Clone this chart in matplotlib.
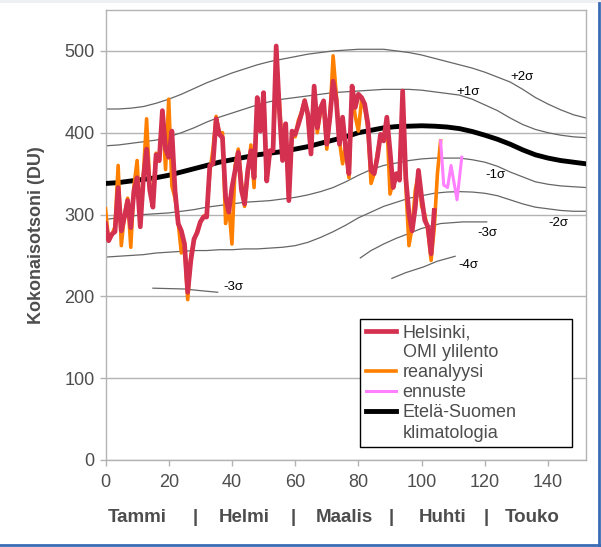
import matplotlib

matplotlib.use("Agg")
import matplotlib.pyplot as plt
from matplotlib.lines import Line2D

plt.rcParams["font.family"] = ["Liberation Sans", "DejaVu Sans"]

# Helsinki, OMI overpass (daily, from day 0)
helsinki = [289, 268, 276, 279, 333, 280, 297, 317, 284, 329,
            345, 285, 345, 380, 330, 309, 373, 366, 427, 380,
            370, 402, 329, 289, 280, 264, 205, 244, 270, 278,
            291, 297, 297, 360, 362, 417, 398, 394, 321, 303,
            333, 354, 376, 330, 313, 354, 378, 345, 443, 402,
            449, 341, 378, 378, 506, 427, 366, 411, 317, 402,
            398, 410, 423, 439, 423, 374, 457, 406, 430, 439,
            386, 419, 463, 440, 386, 419, 380, 350, 457, 431,
            447, 443, 435, 411, 354, 350, 370, 398, 390, 419,
            378, 333, 350, 342, 451, 345, 301, 280, 309, 354,
            321, 293, 285, 252, 305]

# reanalysis (daily, from day 0)
reanalysis = [307, 268, 275, 285, 360, 262, 300, 320, 260, 335,
              366, 290, 350, 417, 335, 320, 375, 365, 425, 355,
              441, 335, 320, 290, 253, 262, 196, 250, 268, 280,
              290, 298, 300, 352, 380, 420, 400, 400, 289, 310,
              264, 360, 380, 340, 310, 350, 385, 333, 440, 405,
              447, 345, 375, 380, 470, 440, 370, 405, 320, 400,
              395, 415, 425, 440, 420, 380, 450, 400, 425, 435,
              380, 420, 494, 447, 390, 362, 385, 345, 450, 420,
              402, 440, 430, 405, 338, 350, 375, 395, 395, 415,
              325, 340, 350, 345, 440, 335, 262, 285, 330, 350,
              310, 300, 280, 244, 284, 350, 390]

# forecast
fc_days = [106, 107, 108.2, 109.3, 111.2, 112.7]
forecast = [390, 336, 333, 360, 318, 370]

# climatology and sigma bands (Southern Finland)
clim_days = [0, 4, 8, 12, 16, 20, 24, 28, 32, 36, 40, 44, 48, 52, 56, 60,
             64, 68, 72, 76, 80, 84, 88, 92, 96, 100, 104, 108, 112, 116,
             120, 124, 128, 132, 136, 140, 144, 148, 152]
clim = [338, 339, 341, 343, 345, 348, 352, 356, 360, 364, 367, 370, 373,
        375, 377, 380, 383, 387, 391, 395, 400, 403, 406, 407.5, 408, 408.5,
        408, 407, 405, 401.5, 397, 392, 386, 379, 373, 369, 366, 364, 362]
plus2 = [429, 429, 430, 432, 436, 441, 447, 454, 461, 467, 473, 478, 483,
         487, 490, 493, 496, 498, 500, 501, 502, 502, 502, 500, 498, 495,
         491, 487, 483, 479, 474, 468, 462, 453, 443, 435, 428, 422, 418]
plus1 = [384, 385, 387, 389, 391, 395, 400, 406, 413, 419, 424, 429, 434,
         438, 441, 443, 445, 447, 449, 450, 451, 452, 453, 453, 453, 452,
         450, 448, 446, 441, 434, 427, 418, 410, 404, 400, 397, 395, 394]
minus1 = [294, 296, 298, 300, 301, 302, 304, 306, 309, 311, 313, 315, 316,
          317, 319, 321, 324, 328, 333, 340, 348, 355, 360, 363, 366, 368,
          369, 369, 369, 367, 364, 359, 352, 346, 340, 337, 335, 334, 333]
minus2 = [248, 249, 250, 251, 253, 254, 255, 256, 256, 257, 257, 258, 258,
          259, 260, 262, 266, 272, 279, 287, 296, 303, 310, 315, 320, 323,
          326, 327.5, 328, 327.5, 326, 323, 318, 313, 309, 307, 305, 304, 304]
m3a_days = [15, 20, 25, 30, 35.5]
minus3a = [210, 209.5, 209, 207, 205]
m3b_days = [80.6, 84, 88, 92, 95.4, 100, 106, 113, 120.6]
minus3b = [247, 256, 264, 271, 276, 283, 289, 291, 291]
m4_days = [90.6, 95, 100.6, 105, 110.6]
minus4 = [222, 229, 236, 243, 249]

sigma_labels = ["+2σ", "+1σ", "-1σ", "-2σ", "-3σ", "-4σ", "-3σ"]
sigma_lab_x = [131.8, 114.8, 123.3, 143.2, 120.7, 114.8, 40.5]
sigma_lab_y = [468, 450, 348, 290, 277, 238, 212]

months = ["Tammi", "|", "Helmi", "|", "Maalis", "|", "Huhti", "|", "Touko"]
month_px = [137, 195, 244, 293, 344, 391, 443, 486, 532]

grey = "#b3b3b3"
txt = "#4d4d4d"
c_hel = "#d4304f"
c_rea = "#ff8000"
c_fc = "#ff80ff"

fig = plt.figure(figsize=(6.01, 5.47), dpi=100)
ax = fig.add_axes([105.5 / 601, 87 / 547, 480.5 / 601, 450 / 547])

sig_kw = dict(color="#666666", lw=0.9, zorder=2)
for ys in (plus2, plus1, minus1, minus2):
    ax.plot(clim_days, ys, **sig_kw)
ax.plot(m3a_days, minus3a, **sig_kw)
ax.plot(m3b_days, minus3b, **sig_kw)
ax.plot(m4_days, minus4, **sig_kw)
ax.plot(clim_days, clim, color="black", lw=3.5, zorder=3,
        solid_joinstyle="round")

ax.plot(range(len(reanalysis)), reanalysis, color=c_rea, lw=2.6, zorder=4,
        solid_joinstyle="round")
ax.plot(fc_days, forecast, color=c_fc, lw=2.2, zorder=4,
        solid_joinstyle="round")
ax.plot(range(len(helsinki)), helsinki, color=c_hel, lw=3.4, zorder=5,
        solid_joinstyle="round")

for s, x, y in zip(sigma_labels, sigma_lab_x, sigma_lab_y):
    ax.text(x, y, s, fontsize=9.5, ha="center", va="center", color="black")

ax.set_xlim(0, 152)
ax.set_ylim(0, 550)
ax.set_xticks(range(0, 141, 20))
ax.set_yticks(range(0, 501, 100))
ax.yaxis.grid(True, color=grey, lw=1)
ax.set_axisbelow(True)
for sp in ax.spines.values():
    sp.set_color(grey)
    sp.set_linewidth(1)
ax.tick_params(colors=grey, labelcolor=txt, labelsize=13, length=4,
               width=1)
ax.tick_params(axis="x", pad=6)
ax.tick_params(axis="y", pad=4)
ax.set_ylabel("Kokonaisotsoni (DU)", fontsize=13, fontweight="bold",
              color=txt, labelpad=14)

for m, px in zip(months, month_px):
    fig.text(px / 601, 1 - 518 / 547, m, fontsize=13.5, fontweight="bold",
             color=txt, ha="center", va="center")

handles = [
    Line2D([], [], color=c_hel, lw=3.4),
    Line2D([], [], color="none"),
    Line2D([], [], color=c_rea, lw=2.6),
    Line2D([], [], color=c_fc, lw=2.2),
    Line2D([], [], color="black", lw=3.5),
    Line2D([], [], color="none"),
]
labels = ["Helsinki,", "OMI ylilento", "reanalyysi", "ennuste",
          "Etelä-Suomen", "klimatologia"]
leg = ax.legend(handles, labels, loc="lower left",
                bbox_to_anchor=(0.53, 0.029, 0.441, 0.291), mode="expand",
                fontsize=13, frameon=True, fancybox=False, framealpha=1,
                edgecolor="black", handlelength=1.7, handletextpad=0.35,
                labelspacing=0.17, borderpad=0.3, borderaxespad=0)
leg.get_frame().set_linewidth(1)
for t in leg.get_texts():
    t.set_color(txt)

# screenshot frame
fig.add_artist(plt.Rectangle((0, 1 - 3 / 547), 1, 3 / 547,
                             transform=fig.transFigure, color="#eef0f4",
                             lw=0))
fig.add_artist(Line2D([598.5 / 601, 598.5 / 601], [0, 1 - 3 / 547],
                      transform=fig.transFigure, color="#3a6cb4", lw=2))
fig.add_artist(Line2D([0, 1], [2 / 547, 2 / 547],
                      transform=fig.transFigure, color="#3a6cb4", lw=2))

fig.savefig("out.png", dpi=100)
